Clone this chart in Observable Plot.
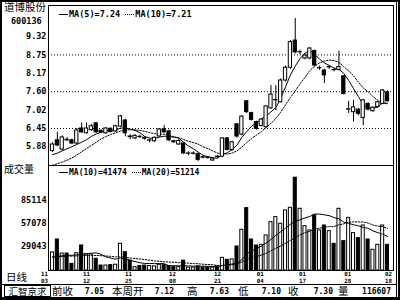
<!DOCTYPE html>
<html><head><meta charset="utf-8">
<script src="https://cdn.jsdelivr.net/npm/d3@7"></script>
<script src="https://cdn.jsdelivr.net/npm/@observablehq/plot@0.6"></script>
<style>
body{margin:0;background:#fff}
#wrap{position:relative;width:400px;height:300px;overflow:hidden;background:#fff;color:#000}
.abs{position:absolute;white-space:nowrap}
.cjk{font-family:"Noto Sans CJK SC";}
.num{font-family:"DejaVu Sans Mono";font-weight:bold}
.seg{display:inline-block;width:9px;height:0;vertical-align:middle;margin-right:1px}
.solid{border-top:1px solid #000}
.dot{border-top:1px dotted #000}
.line{position:absolute;background:#000}
</style></head><body>
<div id="wrap"></div>
<script>
// ---------- data ----------
const stockName = "道博股份";
const stockCode = "600136";
const open  = [5.75,6.08,5.79,6.10,6.08,5.98,6.45,6.30,6.40,6.61, 6.38,6.30,6.44,6.36,6.51,6.70,6.20,6.14,6.19,6.16, 6.07,6.05,6.20,6.42,6.36,6.05,5.95,5.98,5.66,5.66, 5.65,5.55,5.54,5.45,5.57,5.57,6.14,5.78,6.58,6.26, 7.30,6.93,6.65,6.53,6.49,7.08,7.33,7.27,7.95,8.35, 9.20,8.83,8.64,8.64,8.87,8.33,8.26,8.36,8.28,8.28, 8.08,7.04,6.96,7.04,6.78,7.22,6.99,7.12,7.22,7.58];
const high  = [6.00,6.33,6.22,6.16,6.12,6.45,6.62,6.62,6.58,6.64, 6.40,6.48,6.47,6.55,6.86,6.74,6.25,6.26,6.24,6.18, 6.12,6.18,6.45,6.54,6.40,6.08,6.10,6.00,5.72,5.72, 5.68,5.58,5.57,5.53,5.60,6.16,6.16,6.05,6.60,6.85, 7.32,6.96,6.68,6.76,7.16,7.79,7.79,8.00,8.40,9.20, 9.89,8.90,8.80,8.98,8.90,8.40,8.30,8.42,8.32,8.87, 8.10,7.30,7.33,7.08,7.36,7.25,7.13,7.30,7.67,7.63];
const low   = [5.70,5.88,5.75,6.04,5.95,5.95,6.30,6.28,6.36,6.30, 6.30,6.27,6.31,6.33,6.48,6.19,6.10,6.10,6.14,6.08, 6.00,6.02,6.18,6.30,6.04,5.98,5.92,5.64,5.60,5.62, 5.42,5.50,5.49,5.42,5.52,5.55,5.75,5.74,6.15,6.22, 6.92,6.68,6.40,6.50,6.46,7.05,7.01,7.25,7.90,8.30, 8.78,8.75,8.60,8.60,8.38,8.27,7.86,8.30,8.22,8.25, 7.50,6.92,6.65,6.85,6.54,7.00,6.96,7.10,7.20,7.28];
const close = [5.95,5.92,6.17,6.08,5.98,6.39,6.33,6.45,6.52,6.33, 6.33,6.45,6.34,6.52,6.83,6.30,6.18,6.22,6.18,6.13, 6.08,6.16,6.42,6.33,6.08,6.02,6.06,5.67,5.67,5.67, 5.47,5.54,5.53,5.51,5.56,6.14,5.78,6.02,6.20,6.82, 6.96,6.72,6.44,6.73,7.14,7.51,7.34,7.95,8.35,9.15, 8.83,8.84,8.73,8.95,8.42,8.34,8.11,8.37,8.27,8.37, 7.53,7.05,7.11,6.91,7.33,7.04,7.10,7.27,7.64,7.30];
const volume = [22000,37700,20600,20600,8100,21000,30400,19500,19500,14200, 6000,6000,6500,7000,32400,22300,12000,4000,5500,6000, 5500,5000,7000,6500,5500,4000,4000,12000,3500,3500, 5000,3500,3500,3500,5000,15400,13000,13500,29200,49500, 75800,37700,30400,31200,42600,58800,64900,56800,73000,76200, 112800,75000,53900,48700,66900,48700,54700,47800,32400,75000, 35700,64000,45400,39300,54700,37700,25200,31200,54700,31200];
const ma5  = [5.63,5.68,5.75,5.82,5.88,5.95,6.02,6.10,6.20,6.28, 6.33,6.38,6.39,6.40,6.46,6.47,6.43,6.39,6.32,6.20, 6.15,6.14,6.18,6.21,6.20,6.18,6.15,6.02,5.90,5.82, 5.71,5.61,5.57,5.53,5.52,5.64,5.69,5.79,5.93,6.17, 6.35,6.52,6.62,6.74,6.84,6.97,7.10,7.40,7.75,8.12, 8.40,8.64,8.80,8.90,8.76,8.62,8.50,8.42,8.34,8.30, 8.17,7.95,7.70,7.45,7.20,7.09,7.08,7.12,7.25,7.24];
const ma10 = [5.30,5.35,5.40,5.46,5.53,5.62,5.72,5.82,5.92,6.02, 6.12,6.20,6.26,6.32,6.37,6.40,6.41,6.41,6.39,6.36, 6.32,6.29,6.28,6.27,6.24,6.19,6.16,6.11,6.05,6.01, 5.96,5.88,5.82,5.75,5.68,5.66,5.65,5.68,5.75,5.87, 6.01,6.14,6.24,6.35,6.48,6.61,6.76,6.96,7.19,7.42, 7.62,7.85,8.05,8.26,8.40,8.50,8.56,8.59,8.57,8.52, 8.38,8.25,8.10,7.90,7.72,7.60,7.45,7.33,7.26,7.21];
const vma10 = [16000,17000,18000,18500,18500,19000,20000,20500,21000,21400, 19800,16500,15100,13800,15200,14300,12400,10800,9400,8600, 8500,8400,8400,8300,5700,5800,5700,5800,5600,5300, 5300,5200,5000,4900,5000,6000,6900,7900,8600,13000, 20200,23600,26400,29600,33400,37700,42800,47100,51500,56100, 59700,61600,63900,65600,68600,68600,67600,66700,64300,62800, 58800,57300,55600,54300,52300,51400,48100,46000,44000,41474];
const vma20 = [16500,16800,17000,17300,17500,17800,18000,18200,18300,18300, 18000,17600,17200,16500,16500,16000,15200,14500,14000,13300, 12600,11600,11200,10600,10300,10000,9600,9400,8900,8400, 8200,7600,7300,7000,6000,6200,6600,6900,8100,10300, 13800,15500,17000,18700,20900,23900,27000,29800,33100,36400, 39800,43400,45900,47700,50600,51400,52600,53400,53500,55500, 56700,58700,59100,59000,58900,57700,55200,53900,53400,51214];
const priceTicks = [9.32, 8.75, 8.17, 7.60, 7.02, 6.45, 5.88];
const priceGrid = [8.75, 7.60, 6.45];
const volTicks = [85114, 57078, 29043];
const dateTickPos = [-1.65, 7.0, 15.65, 24.7, 34.0, 42.8, 51.5, 60.8, 69.2];
const dateLabels = ["11\n03","11\n12","11\n25","12\n08","12\n21","01\n04","01\n17","01\n28","02\n18"];
const summaryLabels = ["前收","本周开","高","低","收","量"];
const summaryValues = ["7.05","7.12","7.63","7.10","7.30","116607"];

// ---------- build ----------
const data = open.map((o, i) => ({i, o, h: high[i], l: low[i], c: close[i], v: volume[i], up: close[i] >= o}));
const labelMap = new Map(dateTickPos.map((p, k) => [p, dateLabels[k]]));
const xDomain = [-0.824, 70.236];
const mono = "DejaVu Sans Mono";

const price = Plot.plot({
  width: 400, height: 165, marginLeft: 48, marginRight: 7, marginTop: 5, marginBottom: 0,
  x: {type: "linear", domain: xDomain, axis: null},
  y: {domain: [5.293, 10.295]},
  color: {type: "identity"},
  style: {background: "transparent", overflow: "visible"},
  marks: [
    Plot.ruleY(priceGrid, {stroke: "#000", strokeDasharray: "1,2", strokeWidth: 1}),
    Plot.axisY(priceTicks, {anchor: "left", tickSize: 0, tickPadding: 2, tickFormat: d => d.toFixed(2), fontFamily: mono, fontWeight: "bold", fontSize: 8.5, label: null}),
    Plot.lineY(ma10, {stroke: "#000", strokeWidth: 1, strokeDasharray: "1.5,1.5"}),
    Plot.lineY(ma5, {stroke: "#000", strokeWidth: 1}),
    Plot.ruleX(data, {x: "i", y1: "l", y2: "h", stroke: "#000", strokeWidth: 1}),
    Plot.rect(data, {x1: d => d.i - 0.5, x2: d => d.i + 0.5, insetLeft: 0.8, insetRight: 0.8, y1: "o", y2: "c",
      fill: d => d.up ? "#fff" : "#000", stroke: "#000", strokeWidth: 1}),
    Plot.frame({stroke: "#000"})
  ]
});

const vol = Plot.plot({
  width: 400, height: 120, marginLeft: 48, marginRight: 7, marginTop: 0, marginBottom: 15,
  x: {type: "linear", domain: xDomain},
  y: {domain: [0, 127600]},
  color: {type: "identity"},
  style: {background: "transparent", overflow: "visible"},
  marks: [
    Plot.axisY(volTicks, {anchor: "left", tickSize: 0, tickPadding: 2, tickFormat: d => String(d), fontFamily: mono, fontWeight: "bold", fontSize: 8.5, label: null}),
    Plot.rect(data, {x1: d => d.i - 0.5, x2: d => d.i + 0.5, insetLeft: 0.9, insetRight: 0.9, y1: 0, y2: "v",
      fill: d => d.up ? "#fff" : "#000", stroke: "#000", strokeWidth: 1}),
    Plot.lineY(vma20, {stroke: "#000", strokeWidth: 1, strokeDasharray: "1.5,1.5"}),
    Plot.lineY(vma10, {stroke: "#000", strokeWidth: 1}),
    Plot.axisX(dateTickPos, {anchor: "bottom", tickSize: 0, tickPadding: 0.5, tickFormat: d => labelMap.get(d),
      fontFamily: mono, fontWeight: "bold", fontSize: 5.8, lineHeight: 1.2, label: null}),
    Plot.frame({stroke: "#000"})
  ]
});

const wrap = document.getElementById("wrap");
function place(el, left, top) { el.style.position = "absolute"; el.style.left = left + "px"; el.style.top = top + "px"; wrap.appendChild(el); return el; }
place(price, 0, 0);
place(vol, 0, 165);

function div(html, cls, css) { const d = document.createElement("div"); d.className = "abs " + cls; d.innerHTML = html; d.style.cssText += css; wrap.appendChild(d); return d; }

// left panel texts
div(stockName, "cjk", "left:4px;top:0px;font-size:10.5px;line-height:14px;");
div(stockCode, "num", "left:11px;top:16px;font-size:8.5px;line-height:10px;");
div("成交量", "cjk", "left:4px;top:162px;font-size:10px;line-height:13px;");
div("日线", "cjk", "left:6px;top:270px;font-size:10.5px;line-height:13px;");

// legends
const last = a => a[a.length - 1];
div(`<span class="seg solid"></span>MA(5)=${last(ma5).toFixed(2)} <span class="seg dot"></span>MA(10)=${last(ma10).toFixed(2)}`, "num",
  "left:59px;top:9px;font-size:8.5px;line-height:10px;");
div(`<span class="seg solid"></span>MA(10)=${last(vma10)} <span class="seg dot"></span>MA(20)=${last(vma20)}`, "num",
  "left:59px;top:168px;font-size:8px;line-height:10px;");

// bottom info bar
div("汇智京求", "cjk", "left:4px;top:285px;width:45px;height:10px;border:1px solid #000;font-size:9.5px;line-height:10px;text-align:center;");
const labelLeft = [52, 112, 187, 238, 288, 338];
const valueRight = [104, 174, 229, 281, 333, 391];
summaryLabels.forEach((t, k) => div(t, "cjk", `left:${labelLeft[k]}px;top:285px;font-size:10.5px;line-height:12px;`));
summaryValues.forEach((t, k) => div(t, "num", `right:${400 - valueRight[k]}px;top:286px;font-size:8px;line-height:11px;`));

// frame lines
function line(css) { const d = document.createElement("div"); d.className = "line"; d.style.cssText += css; wrap.appendChild(d); }
line("left:0;top:0;width:2px;height:300px;");
line("left:0;top:0;width:400px;height:2px;");
line("left:0;top:297px;width:400px;height:3px;");
line("left:398px;top:0;width:2px;height:300px;");
line("left:396px;top:2px;width:1px;height:296px;");
line("left:2px;top:284px;width:395px;height:1px;");
</script>
</body></html>
